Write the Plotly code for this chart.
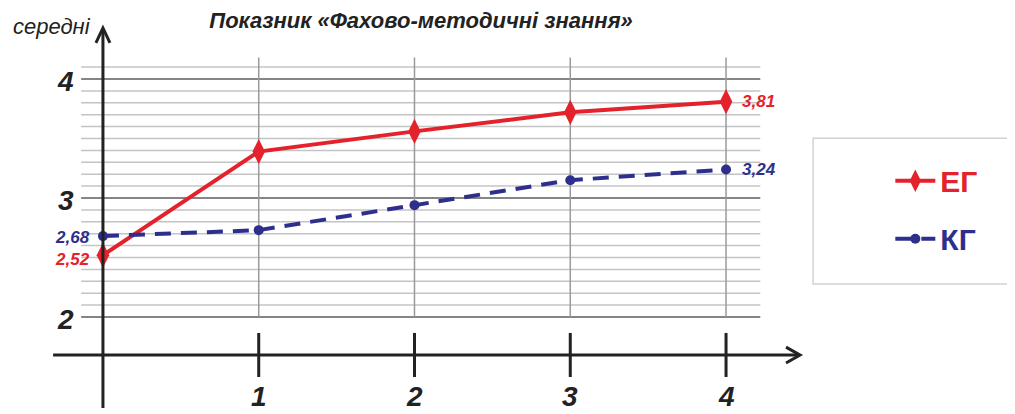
import plotly.graph_objects as go

# data
stages = [0, 1, 2, 3, 4]
eg_values = [2.52, 3.39, 3.56, 3.72, 3.81]
kg_values = [2.68, 2.73, 2.94, 3.15, 3.24]
x_tick_labels = [1, 2, 3, 4]
y_tick_labels = [2, 3, 4]

red = "#e3222b"
navy = "#2e2f8c"
ink = "#222222"
sans = "Liberation Sans, Arial, sans-serif"


def fmt(v):
    return f"{v:.2f}".replace(".", ",")


fig = go.Figure()
fig.add_trace(go.Scatter(
    x=stages, y=eg_values, mode="lines+markers", name=f"<span style='color:{red}'>ЕГ</span>",
    line=dict(color=red, width=4), marker=dict(symbol="diamond-tall", size=18, color=red),
    legendgroup="eg"))
fig.add_trace(go.Scatter(
    x=stages, y=kg_values, mode="lines+markers", name=f"<span style='color:{navy}'>КГ</span>",
    line=dict(color=navy, width=4, dash="16px,10px"), marker=dict(symbol="circle", size=10, color=navy),
    legendgroup="kg"))

shapes = []
# horizontal grid 2.0 .. 4.1
for k in range(20, 42):
    v = k / 10
    major = k % 10 == 0
    shapes.append(dict(type="line", xref="x", yref="y", x0=-0.14, x1=4.22, y0=v, y1=v, layer="below",
                       line=dict(color="#858585" if major else "#c4c4c4", width=2 if major else 1.5)))
# vertical grid and ticks
for t in x_tick_labels:
    shapes.append(dict(type="line", xref="x", yref="y", x0=t, x1=t, y0=2.0, y1=4.18, layer="below",
                       line=dict(color="#9a9a9a", width=1.5)))
    shapes.append(dict(type="line", xref="x", yref="y", x0=t, x1=t, y0=1.496, y1=1.866,
                       line=dict(color=ink, width=3)))
# axes with arrows
shapes.append(dict(type="line", xref="x", yref="y", x0=-0.32, x1=4.47, y0=1.68, y1=1.68,
                   line=dict(color=ink, width=3)))
shapes.append(dict(type="path", xref="x", yref="y", path="M 4.385,1.747 L 4.475,1.68 L 4.385,1.613",
                   line=dict(color=ink, width=3)))
shapes.append(dict(type="line", xref="x", yref="y", x0=0, x1=0, y0=1.235, y1=4.42,
                   line=dict(color=ink, width=3)))
shapes.append(dict(type="path", xref="x", yref="y", path="M -0.045,4.303 L 0,4.429 L 0.045,4.303",
                   line=dict(color=ink, width=3)))
# legend frame
shapes.append(dict(type="rect", xref="paper", yref="paper", x0=1.004, x1=1.275, y0=0.33, y1=0.70,
                   line=dict(color="#d2d2d2", width=1.5)))

tick_font = dict(family=sans, size=28, color=ink, weight="bold", style="italic")
annotations = []
for t in y_tick_labels:
    annotations.append(dict(x=-0.24, y=t, xref="x", yref="y", text=str(t), showarrow=False, yshift=-2,
                            font=tick_font))
for t in x_tick_labels:
    annotations.append(dict(x=t, y=1.33, xref="x", yref="y", text=str(t), showarrow=False, font=tick_font))


def value_font(c):
    return dict(family=sans, size=17, color=c, weight="bold", style="italic")


annotations.append(dict(x=stages[0], y=kg_values[0], text=fmt(kg_values[0]), showarrow=False, xanchor="right",
                        xshift=-11, yshift=-1, font=value_font(navy)))
annotations.append(dict(x=stages[0], y=eg_values[0], text=fmt(eg_values[0]), showarrow=False, xanchor="right",
                        xshift=-11, yshift=-4, font=value_font(red)))
annotations.append(dict(x=stages[-1], y=eg_values[-1], text=fmt(eg_values[-1]), showarrow=False, xanchor="left",
                        xshift=14, font=value_font(red)))
annotations.append(dict(x=stages[-1], y=kg_values[-1], text=fmt(kg_values[-1]), showarrow=False, xanchor="left",
                        xshift=14, font=value_font(navy)))
# y caption
annotations.append(dict(x=0, y=4.44, xref="x", yref="y", text="середні", showarrow=False, xanchor="right",
                        xshift=-10, font=dict(family=sans, size=22, color=ink, style="italic")))

fig.update_layout(
    width=1015, height=414,
    margin=dict(l=37, r=213, t=12, b=8),
    plot_bgcolor="white", paper_bgcolor="white",
    xaxis=dict(range=[-0.372, 4.539], visible=False),
    yaxis=dict(range=[1.185, 4.496], visible=False),
    title=dict(text="Показник «Фахово-методичні знання»", x=0.407, xanchor="center", y=0.971, yanchor="middle",
               font=dict(family=sans, size=22, color=ink, weight="bold", style="italic")),
    shapes=shapes, annotations=annotations,
    showlegend=True,
    legend=dict(x=1.105, y=0.658, xanchor="left", yanchor="top", bgcolor="rgba(0,0,0,0)",
                font=dict(family=sans, size=30, weight="bold"), tracegroupgap=16, itemwidth=40),
)

fig.write_html("out.html")
